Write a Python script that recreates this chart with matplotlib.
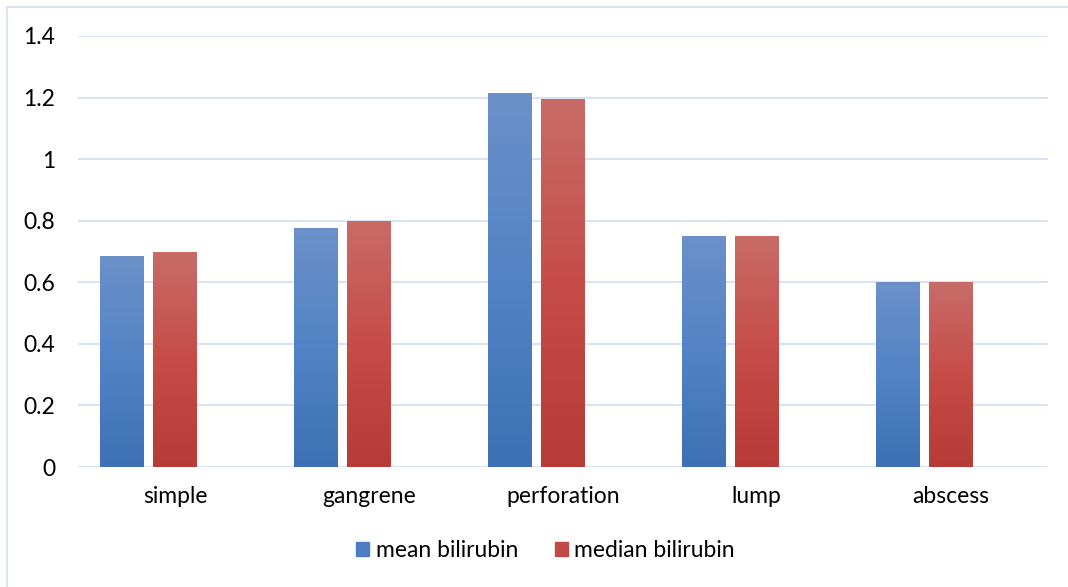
import numpy as np
import matplotlib.pyplot as plt
from matplotlib.patches import Rectangle
from matplotlib.colors import LinearSegmentedColormap
from matplotlib.lines import Line2D

# data
categories = ['simple', 'gangrene', 'perforation', 'lump', 'abscess']
mean_bili = [0.685, 0.775, 1.215, 0.75, 0.60]
median_bili = [0.70, 0.80, 1.195, 0.75, 0.60]
yticks = [0, 0.2, 0.4, 0.6, 0.8, 1, 1.2, 1.4]
ytick_labels = ['0', '0.2', '0.4', '0.6', '0.8', '1', '1.2', '1.4']

plt.rcParams['font.family'] = ['Lato', 'DejaVu Sans']

fig = plt.figure(figsize=(10.68, 5.87), dpi=100)
ax = fig.add_axes([0.073, 0.2044, 0.908, 0.7343])

blue_cmap = LinearSegmentedColormap.from_list('b', ['#3d70b4', '#5283c6', '#6b91c8'])
red_cmap = LinearSegmentedColormap.from_list('r', ['#b73b37', '#c64c48', '#c86c68'])
grad = np.linspace(0, 1, 256).reshape(-1, 1)

bar_w = 0.222
offsets = [-0.276, -0.003]
for series, cmap, off in [(mean_bili, blue_cmap, offsets[0]),
                          (median_bili, red_cmap, offsets[1])]:
    for i, v in enumerate(series):
        x0 = i + off - bar_w / 2
        im = ax.imshow(grad, cmap=cmap, origin='lower', aspect='auto',
                       extent=(x0, x0 + bar_w, 0, v), zorder=3)
        clip = Rectangle((x0, 0), bar_w, v, transform=ax.transData)
        im.set_clip_path(clip)

ax.set_xlim(-0.5, len(categories) - 0.5)
ax.set_ylim(0, 1.4)
for y in yticks:
    ax.axhline(y, color='#d9e3f2', lw=1.5, zorder=1)

ax.set_yticks(yticks)
ax.set_yticklabels(ytick_labels)
ax.set_xticks(range(len(categories)))
ax.set_xticklabels(categories)
ax.tick_params(length=0, labelsize=16.5, colors='#000000')
ax.tick_params(axis='y', pad=16.5)
ax.tick_params(axis='x', pad=14)
for s in ax.spines.values():
    s.set_visible(False)

handles = [Rectangle((0, 0), 1, 1, color='#4d7ec2'),
           Rectangle((0, 0), 1, 1, color='#c24a46')]
fig.legend(handles, ['mean bilirubin', 'median bilirubin'], loc='center',
           bbox_to_anchor=(0.511, 0.062), ncol=2, frameon=False, fontsize=16.5,
           handlelength=0.55, handleheight=0.55, handletextpad=0.3, columnspacing=1.6)

# light chart-area border on left and top
fig.add_artist(Line2D([0.0066, 0.0066], [0, 0.988], color='#d9e3f2', lw=1.5))
fig.add_artist(Line2D([0.0066, 1], [0.988, 0.988], color='#d9e3f2', lw=1.5))

fig.savefig('out.png', dpi=100)
